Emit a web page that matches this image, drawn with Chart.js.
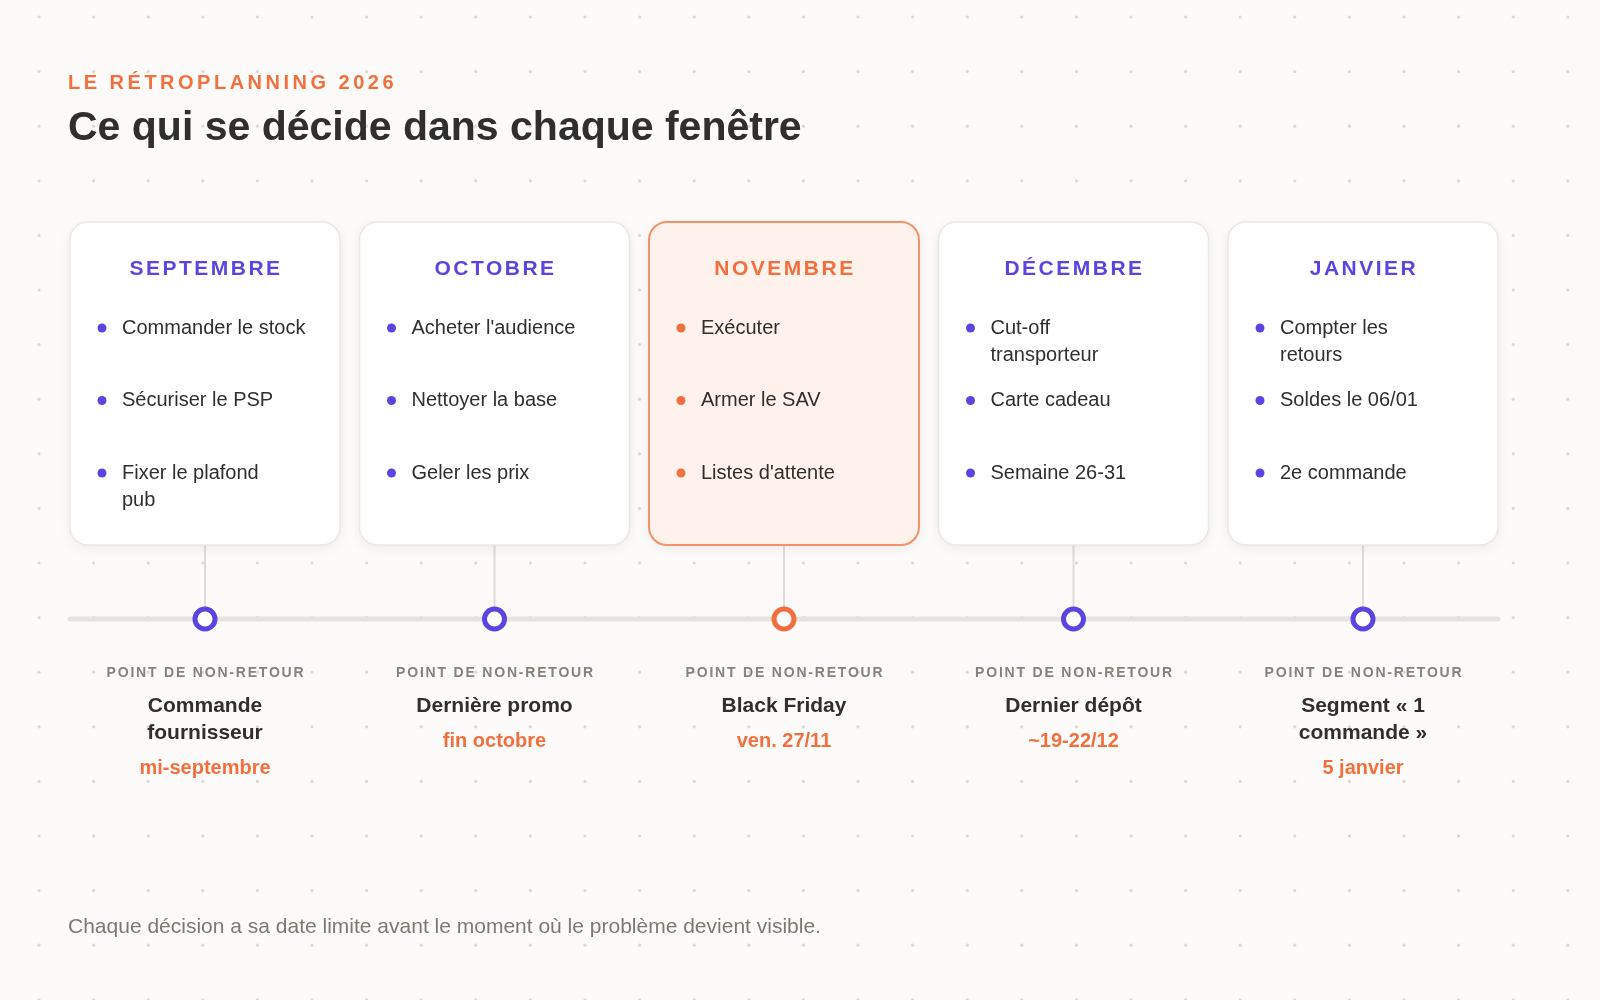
<!DOCTYPE html>
<html><head><meta charset="utf-8">
<script src="https://cdn.jsdelivr.net/npm/chart.js@4"></script>
<style>html,body{margin:0;padding:0;background:#fcfbf9}#w{width:1600px;height:1000px;position:relative}canvas{display:block}</style>
</head><body><div id="w"><canvas id="c" width="1600" height="1000"></canvas></div>
<script>
const months = ["SEPTEMBRE","OCTOBRE","NOVEMBRE","DÉCEMBRE","JANVIER"];
const tasks = [
  ["Commander le stock","Sécuriser le PSP","Fixer le plafond\npub"],
  ["Acheter l'audience","Nettoyer la base","Geler les prix"],
  ["Exécuter","Armer le SAV","Listes d'attente"],
  ["Cut-off\ntransporteur","Carte cadeau","Semaine 26-31"],
  ["Compter les\nretours","Soldes le 06/01","2e commande"]
];
const milestones = ["Commande\nfournisseur","Dernière promo","Black Friday","Dernier dépôt","Segment « 1\ncommande »"];
const deadlines = ["mi-septembre","fin octobre","ven. 27/11","~19-22/12","5 janvier"];
const highlight = 2;
const positions = [0,1,2,3,4];

const PURPLE="#5b45e0", ORANGE="#f2703f", DARK="#2f2f2f";
const F='"Liberation Sans", Arial, sans-serif';
const TL_Y=619, CARD_TOP=222, CARD_BOT=545, CARD_W=270;

function rr(ctx,x,y,w,h,r){ctx.beginPath();ctx.roundRect(x,y,w,h,r);}

const deco = {
  id:'deco',
  beforeDatasetsDraw(chart){
    const ctx=chart.ctx;
    ctx.save();
    ctx.fillStyle="#fcfbf9";ctx.fillRect(0,0,1600,1000);
    ctx.fillStyle="#dcd9d4";
    for(let x=39;x<1600;x+=54.6)for(let y=17;y<1000;y+=54.6){ctx.beginPath();ctx.arc(x,y,1.6,0,7);ctx.fill();}
    ctx.letterSpacing="3.5px";
    ctx.fillStyle=ORANGE;ctx.font="bold 20px "+F;ctx.textBaseline="middle";ctx.textAlign="left";
    ctx.fillText("LE RÉTROPLANNING 2026",68,83);
    ctx.letterSpacing="0px";
    ctx.fillStyle=DARK;ctx.font="bold 41px "+F;
    ctx.fillText("Ce qui se décide dans chaque fenêtre",68,129);
    ctx.fillStyle="#7d7872";ctx.font="21px "+F;
    ctx.fillText("Chaque décision a sa date limite avant le moment où le problème devient visible.",68,927);
    const xs=chart.scales.x;
    const first=xs.getPixelForValue(positions[0])-CARD_W/2, last=xs.getPixelForValue(positions[positions.length-1])+CARD_W/2;
    ctx.strokeStyle="#e6e4e1";ctx.lineWidth=5;ctx.lineCap="round";
    ctx.beginPath();ctx.moveTo(first,TL_Y);ctx.lineTo(last,TL_Y);ctx.stroke();
    positions.forEach((p,i)=>{
      const cx=xs.getPixelForValue(p), hl=i===highlight, col=hl?ORANGE:PURPLE;
      ctx.strokeStyle="#dedcd8";ctx.lineWidth=2;ctx.beginPath();ctx.moveTo(cx,CARD_BOT);ctx.lineTo(cx,TL_Y);ctx.stroke();
      const x0=cx-CARD_W/2;
      ctx.save();ctx.shadowColor="rgba(0,0,0,0.07)";ctx.shadowBlur=14;ctx.shadowOffsetY=3;
      rr(ctx,x0,CARD_TOP,CARD_W,CARD_BOT-CARD_TOP,18);ctx.fillStyle=hl?"#fff1eb":"#ffffff";ctx.fill();ctx.restore();
      rr(ctx,x0,CARD_TOP,CARD_W,CARD_BOT-CARD_TOP,18);ctx.lineWidth=hl?2:1.5;ctx.strokeStyle=hl?"#f5916a":"#ebe9e6";ctx.stroke();
      ctx.textAlign="center";ctx.letterSpacing="2.5px";ctx.font="bold 21px "+F;ctx.fillStyle=col;
      ctx.fillText(months[i],cx+1,269);
      ctx.letterSpacing="0px";ctx.textAlign="left";
      tasks[i].forEach((t,j)=>{
        const y=328+j*72.5;
        ctx.fillStyle=col;ctx.beginPath();ctx.arc(x0+32,y,4.5,0,7);ctx.fill();
        ctx.fillStyle=DARK;ctx.font="20px "+F;
        t.split("\n").forEach((l,k)=>ctx.fillText(l,x0+52,y+k*27));
      });
      ctx.textAlign="center";ctx.letterSpacing="1.8px";ctx.font="bold 14px "+F;ctx.fillStyle="#86827c";
      ctx.fillText("POINT DE NON-RETOUR",cx+1,673);
      ctx.letterSpacing="0px";ctx.font="bold 21px "+F;ctx.fillStyle=DARK;
      const ls=milestones[i].split("\n");
      ls.forEach((l,k)=>ctx.fillText(l,cx,706+k*27));
      ctx.fillStyle=ORANGE;ctx.font="bold 20px "+F;
      ctx.fillText(deadlines[i],cx,706+ls.length*27+8);
    });
    ctx.restore();
  }
};

const pxPerUnit=289.5, firstPx=205;
const xmin=-firstPx/pxPerUnit, xmax=xmin+1600/pxPerUnit;
new Chart(document.getElementById('c'),{
  type:'scatter',
  data:{datasets:[{
    data:positions.map(p=>({x:p,y:TL_Y})),
    pointRadius:10,pointHoverRadius:10,pointBorderWidth:5,
    pointBackgroundColor:"#ffffff",
    pointBorderColor:positions.map((p,i)=>i===highlight?ORANGE:PURPLE),
    clip:false
  }]},
  options:{
    responsive:false,animation:false,devicePixelRatio:1,
    layout:{padding:0,autoPadding:false},
    plugins:{legend:{display:false},tooltip:{enabled:false}},
    scales:{x:{type:'linear',min:xmin,max:xmax,display:false},
            y:{min:0,max:1000,reverse:true,display:false}}
  },
  plugins:[deco]
});
</script>
</body></html>
